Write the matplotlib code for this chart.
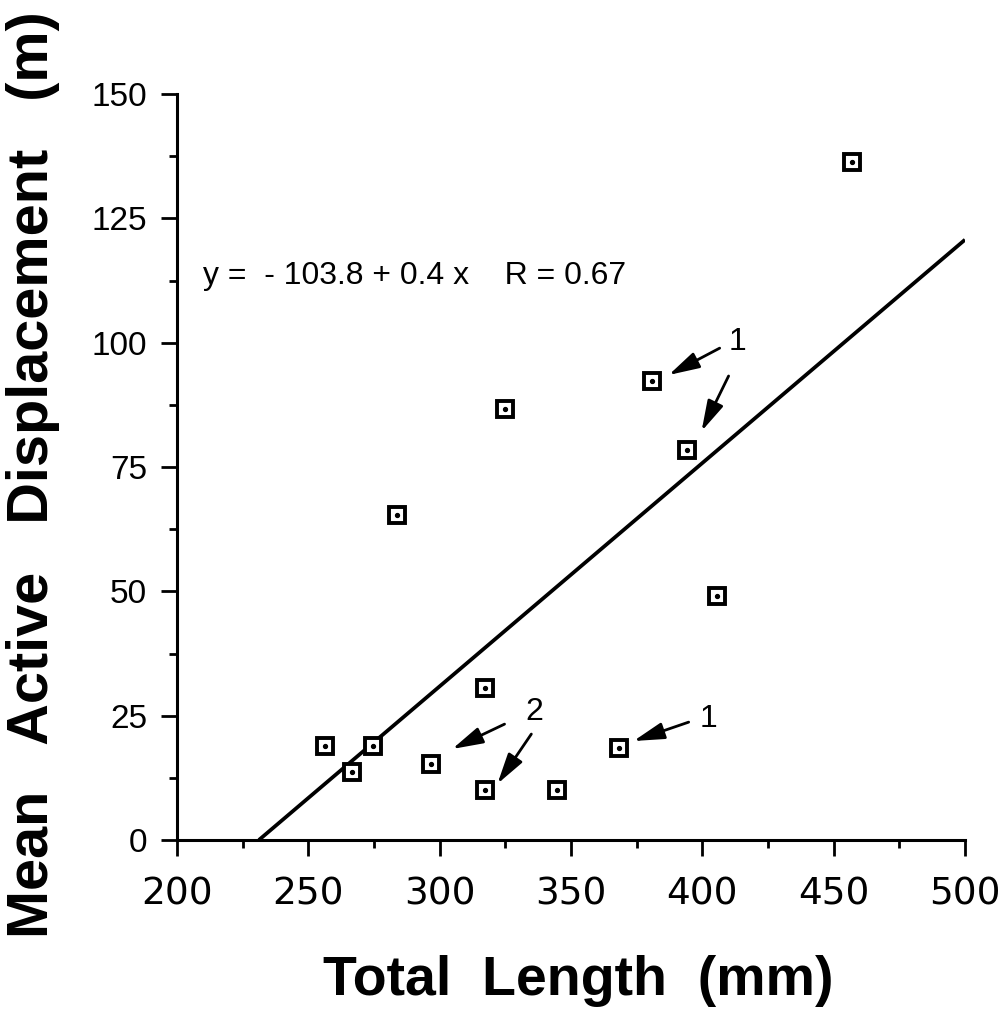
#!/usr/bin/env python
"""Mean active displacement vs total length, with regression line."""
import matplotlib
matplotlib.use('Agg')
import matplotlib.pyplot as plt
from matplotlib import font_manager
import numpy as np

# --- data ---
total_length = [256.3, 266.6, 274.6, 283.8, 296.8, 317.3, 317.3, 325.0,
                344.6, 368.4, 381.0, 394.0, 405.7, 456.8]
displacement = [19.0, 13.7, 19.0, 65.4, 15.3, 30.5, 10.1, 86.7,
                10.1, 18.5, 92.2, 78.5, 49.1, 136.4]

fit_intercept = -103.8
fit_slope = 0.449
fit_text = 'y =  - 103.8 + 0.4 x    R = 0.67'

# annotation labels: (text, label x, label y, [(tail x, tail y, head x, head y), ...])
notes = [
    ('1', 413.5, 100.1, [(406.6, 98.9, 387.2, 93.5), (410.0, 93.3, 399.7, 82.2)]),
    ('1', 402.4, 24.3, [(394.8, 23.7, 373.8, 19.9)]),
    ('2', 336.1, 25.7, [(324.7, 23.3, 304.8, 18.3), (334.9, 21.3, 322.0, 11.3)]),
]

x_major = [200, 250, 300, 350, 400, 450, 500]
x_minor = [225, 275, 325, 375, 425, 475]
y_major = [0, 25, 50, 75, 100, 125, 150]
y_minor = [12.5, 37.5, 62.5, 87.5, 112.5, 137.5]

# narrow font for the equation text if it is around
try:
    font_manager.findfont('Liberation Sans Narrow', fallback_to_default=False)
    narrow = dict(family='Liberation Sans Narrow', fontsize=28)
except Exception:
    narrow = dict(family='Liberation Sans', fontsize=23)
note_font = dict(family='Liberation Sans', fontsize=23)

fig = plt.figure(figsize=(10.07, 10.11), dpi=100)
ax = fig.add_axes([177 / 1007, 1 - 840 / 1011, 788 / 1007, 746 / 1011])

# regression line, starting where it crosses zero
x0 = -fit_intercept / fit_slope
lx = np.array([x0, 500])
ax.plot(lx, fit_intercept + fit_slope * lx, color='black', lw=2.7, solid_capstyle='butt')

# hollow squares with a dot in the middle
ax.plot(total_length, displacement, 's', ms=11, mfc='white', mec='black', mew=2.8,
        linestyle='none', zorder=3)
ax.plot(total_length, displacement, 'o', ms=2.8, color='black', linestyle='none', zorder=4)

ax.text(209.9, 113.4, fit_text, ha='left', va='center', **narrow)

for label, tx, ty, arrows in notes:
    ax.text(tx, ty, label, ha='center', va='center', **note_font)
    for x1, y1, x2, y2 in arrows:
        ax.annotate('', xy=(x2, y2), xytext=(x1, y1),
                    arrowprops=dict(arrowstyle='-|>,head_length=1.1,head_width=0.3',
                                    mutation_scale=17, lw=2.0, color='black',
                                    shrinkA=0, shrinkB=0))

ax.set_xlim(200, 500)
ax.set_ylim(0, 150)
ax.set_xticks(x_major)
ax.set_xticks(x_minor, minor=True)
ax.set_yticks(y_major)
ax.set_yticks(y_minor, minor=True)
ax.set_xticklabels([str(v) for v in x_major], family='DejaVu Sans', fontsize=27)
ax.set_yticklabels([str(v) for v in y_major], family='Liberation Sans', fontsize=24)

for s in ['top', 'right']:
    ax.spines[s].set_visible(False)
for s in ['left', 'bottom']:
    ax.spines[s].set_linewidth(2.2)
ax.tick_params(axis='both', which='major', direction='out', length=11.5, width=2.0)
ax.tick_params(axis='both', which='minor', direction='out', length=6, width=2.0)
ax.tick_params(axis='x', which='major', pad=15)
ax.tick_params(axis='y', which='major', pad=10)

fig.text(578 / 1007, 1 - 995 / 1011, 'Total  Length  (mm)', ha='center', va='baseline',
         family='Liberation Sans', fontweight='bold', fontsize=40)
fig.text(33 / 1007, 1 - 475 / 1011, 'Mean   Active   Displacement   (m)', ha='center',
         va='center', rotation=90, family='Liberation Sans', fontweight='bold', fontsize=41.5)

plt.savefig('out.png', dpi=100)
